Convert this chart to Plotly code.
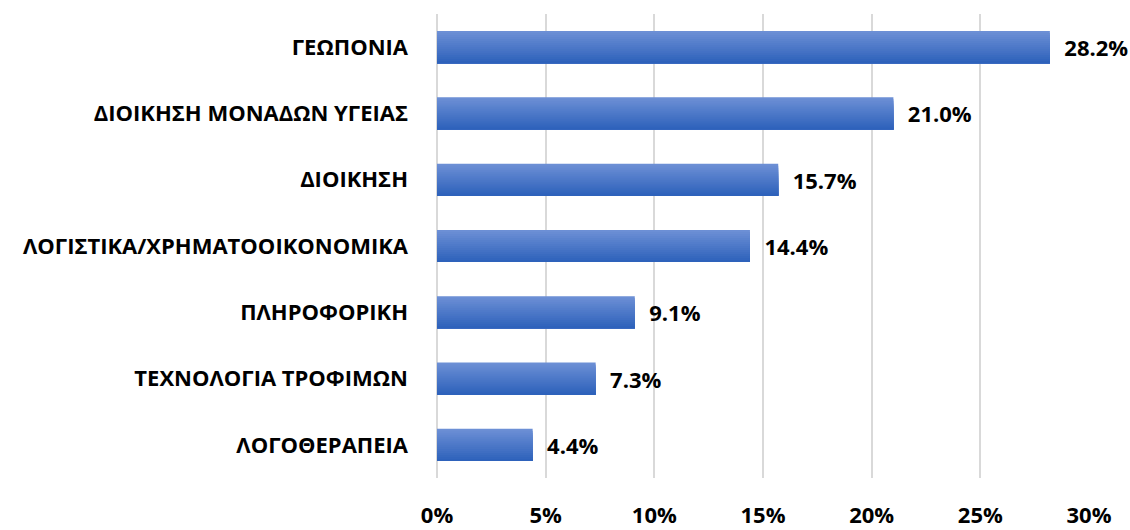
import plotly.graph_objects as go

# Field of study shares (percent), listed top to bottom
categories = [
    "ΓΕΩΠΟΝΙΑ",
    "ΔΙΟΙΚΗΣΗ ΜΟΝΑΔΩΝ ΥΓΕΙΑΣ",
    "ΔΙΟΙΚΗΣΗ",
    "ΛΟΓΙΣΤΙΚΑ/ΧΡΗΜΑΤΟΟΙΚΟΝΟΜΙΚΑ",
    "ΠΛΗΡΟΦΟΡΙΚΗ",
    "ΤΕΧΝΟΛΟΓΙΑ ΤΡΟΦΙΜΩΝ",
    "ΛΟΓΟΘΕΡΑΠΕΙΑ",
]
values = [28.2, 21.0, 15.7, 14.4, 9.1, 7.3, 4.4]
tick_values = [0, 5, 10, 15, 20, 25, 30]
tick_labels = ["0%", "5%", "10%", "15%", "20%", "25%", "30%"]

FONT = "Open Sans"
TOP_RGB = (0x6C, 0x8F, 0xD5)
BOTTOM_RGB = (0x2E, 0x62, 0xBB)
BAR_WIDTH = 0.485
N_STRIPES = 16


def blend(t):
    r, g, b = (round(a + (c - a) * t) for a, c in zip(TOP_RGB, BOTTOM_RGB))
    return f"rgb({r},{g},{b})"


fig = go.Figure()

# Vertical gradient fill: each layer starts lower and runs to the bar's bottom edge,
# later (darker) layers cover the lower part of earlier ones.
for k in range(N_STRIPES):
    step = BAR_WIDTH / N_STRIPES
    top = -BAR_WIDTH / 2 + k * step
    first = k == 0
    fig.add_trace(go.Bar(
        x=values,
        y=categories,
        orientation="h",
        width=BAR_WIDTH - k * step,
        offset=top,
        marker=dict(color=blend(k / (N_STRIPES - 1)), line=dict(width=0)),
        text=[f"  {v:.1f}%" for v in values] if first else None,
        textposition="outside" if first else "none",
        textfont=dict(family=FONT, size=22, color="#000000", weight="bold"),
        constraintext="none",
        cliponaxis=False,
        hoverinfo="skip" if not first else None,
        showlegend=False,
    ))

fig.update_layout(
    width=1130,
    height=530,
    barmode="overlay",
    plot_bgcolor="#FFFFFF",
    paper_bgcolor="#FFFFFF",
    margin=dict(l=437, r=41, t=14, b=52),
    showlegend=False,
    xaxis=dict(
        range=[0, 30],
        tickvals=tick_values,
        ticktext=tick_labels,
        showgrid=True,
        gridcolor="#D9D9D9",
        gridwidth=2,
        zeroline=True,
        zerolinecolor="#D9D9D9",
        zerolinewidth=2,
        showline=False,
        ticks="",
        ticklabelstandoff=22,
        automargin=False,
        tickfont=dict(family=FONT, size=22, color="#000000", weight="bold"),
        fixedrange=True,
    ),
    yaxis=dict(
        autorange="reversed",
        showgrid=False,
        zeroline=False,
        showline=False,
        ticks="",
        ticklabelstandoff=28,
        automargin=False,
        tickfont=dict(family=FONT, size=22, color="#000000", weight="bold"),
        fixedrange=True,
    ),
)

fig.write_html("out.html")
